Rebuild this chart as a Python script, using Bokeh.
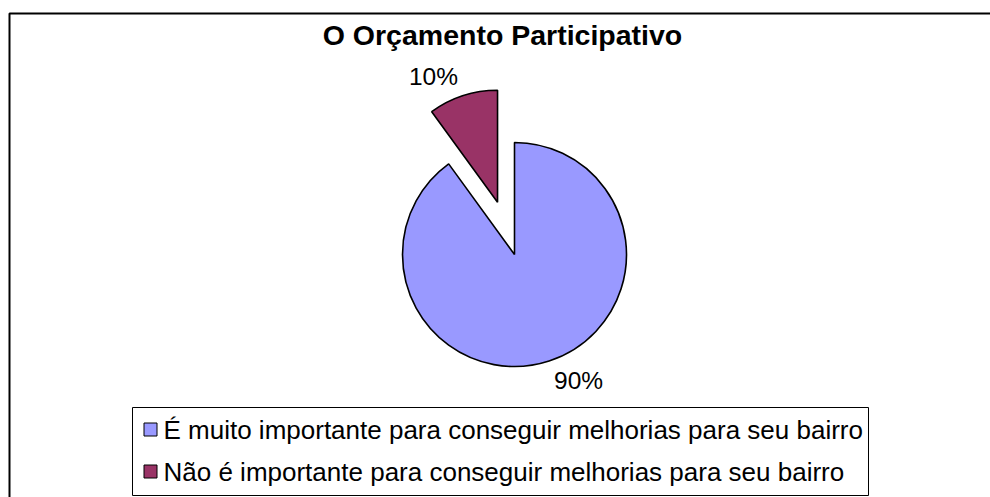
import math
from bokeh.plotting import figure
from bokeh.models import Range1d, BoxAnnotation, ColumnDataSource
from bokeh.core.properties import value
from bokeh.embed import file_html
from bokeh.resources import INLINE

# ---- data ----
title_text = "O Orçamento Participativo"
categories = [
    "É muito importante para conseguir melhorias para seu bairro",
    "Não é importante para conseguir melhorias para seu bairro",
]
values = [90, 10]
colors = ["#9999FF", "#993366"]
explode = [0.0, 0.49]

# ---- layout (pixel units: 1 data unit = 1 px) ----
W, H = 990, 497
CX, CY, R = 514, 243, 112
FONT = "Liberation Sans"

p = figure(width=W, height=H, x_range=Range1d(0, W), y_range=Range1d(0, H),
           x_axis_location=None, y_axis_location=None, min_border=0,
           toolbar_location=None, output_backend="svg")
p.grid.visible = False
p.outline_line_color = None
p.background_fill_color = "white"
p.border_fill_color = "white"

# outer chart border
p.add_layout(BoxAnnotation(left=9, right=W + 200, top=484, bottom=-200,
                           fill_alpha=0, line_color="black", line_alpha=1,
                           line_width=2, line_dash="solid", level="underlay"))

total = float(sum(values))
starts, ends, xs, ys, lx, ly, labels = [], [], [], [], [], [], []
cum = 0.0
for v, e in zip(values, explode):
    a0 = math.pi / 2 - 2 * math.pi * cum / total
    cum += v
    a1 = math.pi / 2 - 2 * math.pi * cum / total
    m = (a0 + a1) / 2
    cx = CX + e * R * math.cos(m)
    cy = CY + e * R * math.sin(m)
    starts.append(a0); ends.append(a1)
    xs.append(cx); ys.append(cy)
    la = m + math.radians(9)
    lx.append(cx + 1.26 * R * math.cos(la))
    ly.append(cy + 1.26 * R * math.sin(la))
    labels.append(f"{round(100 * v / total)}%")

src = ColumnDataSource(dict(x=xs, y=ys, start=starts, end=ends, color=colors,
                            lx=lx, ly=ly, label=labels))
p.wedge(x="x", y="y", radius=R, start_angle="start", end_angle="end",
        direction="clock", fill_color="color", line_color="black",
        line_width=1.6, source=src)
p.text(x="lx", y="ly", text="label", source=src, text_font=value(FONT),
       text_font_size="24.5px", text_align="center", text_baseline="middle",
       text_color="black")

# title
p.text(x=[502], y=[462.5], text=[title_text], text_font=value(FONT),
       text_font_size="28.5px", text_font_style="bold", text_align="center",
       text_baseline="middle", text_color="black")

# legend
LEG_L, LEG_R, LEG_T, LEG_B = 132, 868, 90, 2
p.add_layout(BoxAnnotation(left=LEG_L, right=LEG_R, top=LEG_T, bottom=LEG_B,
                           fill_color="white", fill_alpha=1,
                           line_color="black", line_alpha=1, line_width=1,
                           line_dash="solid", level="underlay"))
row_y = [LEG_T - 22 - i * 42 for i in range(len(categories))]
leg = ColumnDataSource(dict(x=[150] * len(categories), tx=[163] * len(categories),
                            y=row_y, color=colors, label=categories))
p.scatter(x="x", y="y", marker="square", size=13, fill_color="color",
          line_color="black", line_width=1, source=leg)
p.text(x="tx", y="y", text="label", source=leg, text_font=value(FONT),
       text_font_size="26px", text_align="left", text_baseline="middle",
       text_color="black")

open("out.html", "w").write(file_html(p, INLINE))
